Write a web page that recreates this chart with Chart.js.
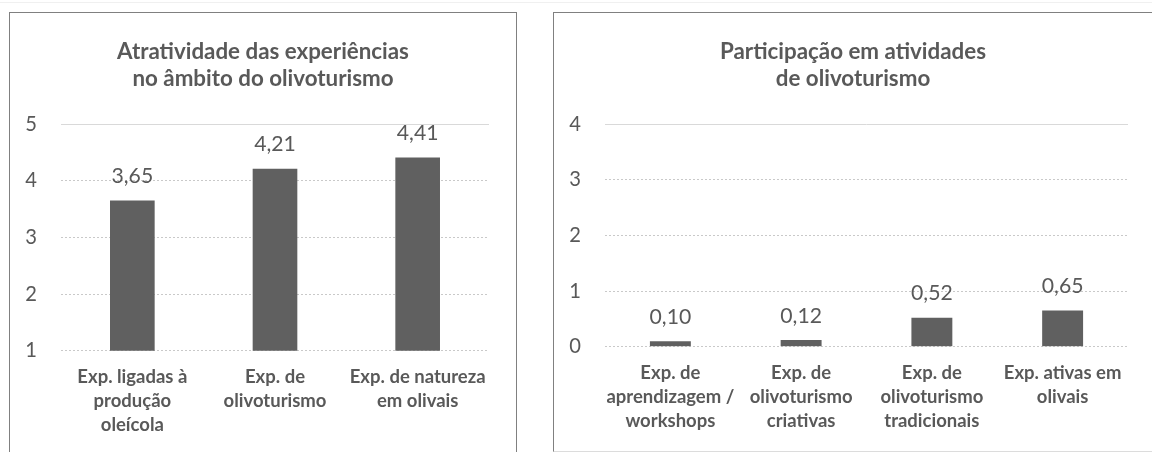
<!DOCTYPE html>
<html><head><meta charset="utf-8">
<script src="https://cdn.jsdelivr.net/npm/chart.js@4.4.1/dist/chart.umd.min.js"></script>
<style>
html,body{margin:0;padding:0;background:#fff;width:1152px;height:452px;overflow:hidden;position:relative}
.panel{position:absolute;box-sizing:border-box;border:1px solid #808080;background:#fff}
#p1{left:9px;top:12px;width:508px;height:460px}
#p2{left:553px;top:12px;width:640px;height:440px;border-bottom-color:#dcdcdc}
canvas{position:absolute}
#c1{left:10px;top:13px}
#c2{left:554px;top:13px}
.topline{position:absolute;left:0;top:2px;width:1152px;height:1px;background:#f0f0f0}
</style></head>
<body>
<div class="topline"></div>
<div class="panel" id="p1"></div>
<div class="panel" id="p2"></div>
<canvas id="c1" width="506" height="439"></canvas>
<canvas id="c2" width="598" height="439"></canvas>
<script>
// ---- data ----
const titleA = ['Atratividade das experiências', 'no âmbito do olivoturismo'];
const categoriesA = [['Exp. ligadas à', 'produção', 'oleícola'], ['Exp. de', 'olivoturismo'], ['Exp. de natureza', 'em olivais']];
const valuesA = [3.65, 4.21, 4.41];
const yRangeA = [1, 5];

const titleB = ['Participação em atividades', 'de olivoturismo'];
const categoriesB = [['Exp. de', 'aprendizagem /', 'workshops'], ['Exp. de', 'olivoturismo', 'criativas'], ['Exp. de', 'olivoturismo', 'tradicionais'], ['Exp. ativas em', 'olivais']];
const valuesB = [0.10, 0.12, 0.52, 0.65];
const yRangeB = [0, 4];

// ---- styling ----
const FONT = 'Lato, "Open Sans", sans-serif';
const TEXT = '#595959';
function fit(text, weight, target) {
  const c = document.createElement('canvas').getContext('2d');
  c.font = weight + ' 100px ' + FONT;
  return 100 * target / c.measureText(text).width;
}
const titleSize = fit(titleA[0], 'bold', 292);
const labelSize = fit(categoriesA[0][0], 'bold', 110);
const valueSize = fit('3,65', 'normal', 41.7);
const tickSize = fit('5', 'normal', 11.7);

const valueLabels = {
  id: 'valueLabels',
  afterDatasetsDraw(chart) {
    const ctx = chart.ctx;
    const meta = chart.getDatasetMeta(0);
    const data = chart.data.datasets[0].data;
    ctx.save();
    ctx.font = 'normal ' + valueSize + 'px ' + FONT;
    ctx.fillStyle = TEXT;
    ctx.textAlign = 'center';
    ctx.textBaseline = 'alphabetic';
    meta.data.forEach((bar, i) => {
      ctx.fillText(data[i].toFixed(2).replace('.', ','), bar.x, bar.y - 17.5);
    });
    ctx.restore();
  }
};

function makeChart(id, title, cats, vals, range, rightPad, xHeight) {
  const yMax = range[1];
  return new Chart(document.getElementById(id), {
    type: 'bar',
    data: { labels: cats, datasets: [{ data: vals, backgroundColor: '#606060', borderWidth: 0, barPercentage: 1, categoryPercentage: 0.313 }] },
    options: {
      responsive: false, animation: false, devicePixelRatio: 1,
      layout: { padding: 0 },
      plugins: {
        legend: { display: false }, tooltip: { enabled: false },
        title: { display: true, text: title, color: TEXT,
          font: { family: FONT, size: titleSize, weight: 'bold', lineHeight: 27 / titleSize },
          padding: { top: 25, bottom: 32 } }
      },
      scales: {
        x: {
          grid: { display: false, drawTicks: false }, border: { display: false },
          ticks: { color: TEXT, font: { family: FONT, size: labelSize, weight: 'bold', lineHeight: 24 / labelSize }, padding: 14, maxRotation: 0, minRotation: 0, autoSkip: false },
          afterFit(s) { s.height = xHeight; }
        },
        y: {
          min: range[0], max: range[1],
          ticks: { stepSize: 1, color: TEXT, font: { family: FONT, size: tickSize }, padding: 24 },
          grid: { color: (c) => (c.tick && c.tick.value === yMax) ? '#d9d9d9' : '#c9c9c9', drawTicks: false, lineWidth: 1 },
          border: { display: false, dash: (c) => (c.tick && c.tick.value === yMax) ? [] : [2, 2] },
          afterFit(s) { s.width = 51; }
        },
        yPad: {
          position: 'right', display: true,
          ticks: { display: false }, grid: { display: false, drawTicks: false }, border: { display: false },
          afterFit(s) { s.width = rightPad; }
        }
      }
    },
    plugins: [valueLabels]
  });
}

makeChart('c1', titleA, categoriesA, valuesA, yRangeA, 27, 101.2);
makeChart('c2', titleB, categoriesB, valuesB, yRangeB, 24, 105.3);
</script>
</body></html>
